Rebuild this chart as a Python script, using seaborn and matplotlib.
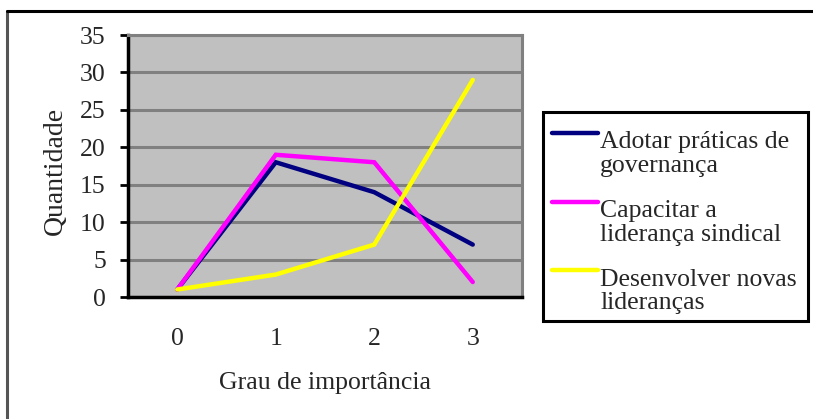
import matplotlib
matplotlib.use("Agg")
import matplotlib.pyplot as plt
from matplotlib.legend_handler import HandlerLine2D
from matplotlib.lines import Line2D
from matplotlib.patches import Rectangle
import seaborn as sns
import pandas as pd

# Survey answers: how many respondents gave each importance grade
grades = [0, 1, 2, 3]
series_names = [
    "Adotar práticas de\ngovernança",
    "Capacitar a\nliderança sindical",
    "Desenvolver novas\nlideranças",
]
adotar = [1, 18, 14, 7]
capacitar = [1, 19, 18, 2]
desenvolver = [1, 3, 7, 29]
colors = ["#000080", "#FF00FF", "#FFFF00"]

rows = []
for name, vals in zip(series_names, [adotar, capacitar, desenvolver]):
    for g, v in zip(grades, vals):
        rows.append({"Grau": g, "Quantidade": v, "Série": name})
df = pd.DataFrame(rows)

sns.set_theme(style="white")
plt.rcParams["font.family"] = ["Liberation Serif", "DejaVu Serif"]
FS = 18.5
W, H = 813, 419

fig = plt.figure(figsize=(W / 100, H / 100), dpi=100)
ax = fig.add_axes([128 / W, 1 - 297 / H, (522 - 128) / W, (297 - 35) / H])
ax.set_facecolor("#C0C0C0")

sns.lineplot(data=df, x="Grau", y="Quantidade", hue="Série",
             palette=colors, linewidth=3.2, ax=ax, legend=False,
             solid_joinstyle="miter", solid_capstyle="round")

ax.set_xlim(-0.5, 3.5)
ax.set_ylim(0, 35)
ax.set_yticks(range(0, 36, 5))
ax.set_xticks(grades)
ax.yaxis.grid(True, color="#808080", linewidth=2.2)
ax.xaxis.grid(False)
ax.set_axisbelow(True)

for side in ("left", "bottom"):
    ax.spines[side].set_color("black")
    ax.spines[side].set_linewidth(2.5)
for side in ("right", "top"):
    ax.spines[side].set_color("#808080")
    ax.spines[side].set_linewidth(2.2)

ax.tick_params(axis="y", which="major", left=True, length=6, width=2,
               color="black", pad=10, labelsize=FS)
ax.tick_params(axis="x", which="major", bottom=False, length=0,
               pad=22, labelsize=FS)
ax.set_xlabel("Grau de importância", fontsize=FS)
ax.set_ylabel("Quantidade", fontsize=20)
ax.xaxis.set_label_coords(0.5, -0.285)
ax.yaxis.set_label_coords(-0.152, 0.48)


class RaisedLineHandler(HandlerLine2D):
    """Legend line drawn level with the first text line of each entry."""

    def create_artists(self, legend, orig_handle, xdescent, ydescent,
                       width, height, fontsize, trans):
        artists = super().create_artists(legend, orig_handle, xdescent,
                                         ydescent, width, height,
                                         fontsize, trans)
        for a in artists:
            a.set_ydata([y + 0.8 * fontsize for y in a.get_ydata()])
        return artists


# Legend box drawn as its own frame, entries placed inside it
fig.add_artist(Rectangle((543 / W, 1 - 321 / H), (808 - 543) / W,
                         (321 - 112) / H, transform=fig.transFigure,
                         facecolor="white", edgecolor="black",
                         linewidth=2.2, zorder=2))
handles = [Line2D([], [], color=c, linewidth=3.2, solid_capstyle="round")
           for c in colors]
leg = fig.legend(handles, series_names, loc="upper left",
                 bbox_to_anchor=(552 / W, 1 - 131 / H),
                 fontsize=FS, frameon=False,
                 handlelength=1.8, handletextpad=0.08,
                 labelspacing=0.9, borderpad=0, borderaxespad=0,
                 handler_map={Line2D: RaisedLineHandler()})
leg.set_zorder(3)
for t in leg.get_texts():
    t.set_linespacing(1.1)

# Outer frame of the chart area
fig.add_artist(Line2D([7 / W, 7 / W], [0, 1 - 11 / H],
                      color="#555555", linewidth=2.2))
fig.add_artist(Line2D([7 / W, 1], [1 - 11 / H, 1 - 11 / H],
                      color="black", linewidth=2.2))

fig.savefig("out.png", dpi=100)
